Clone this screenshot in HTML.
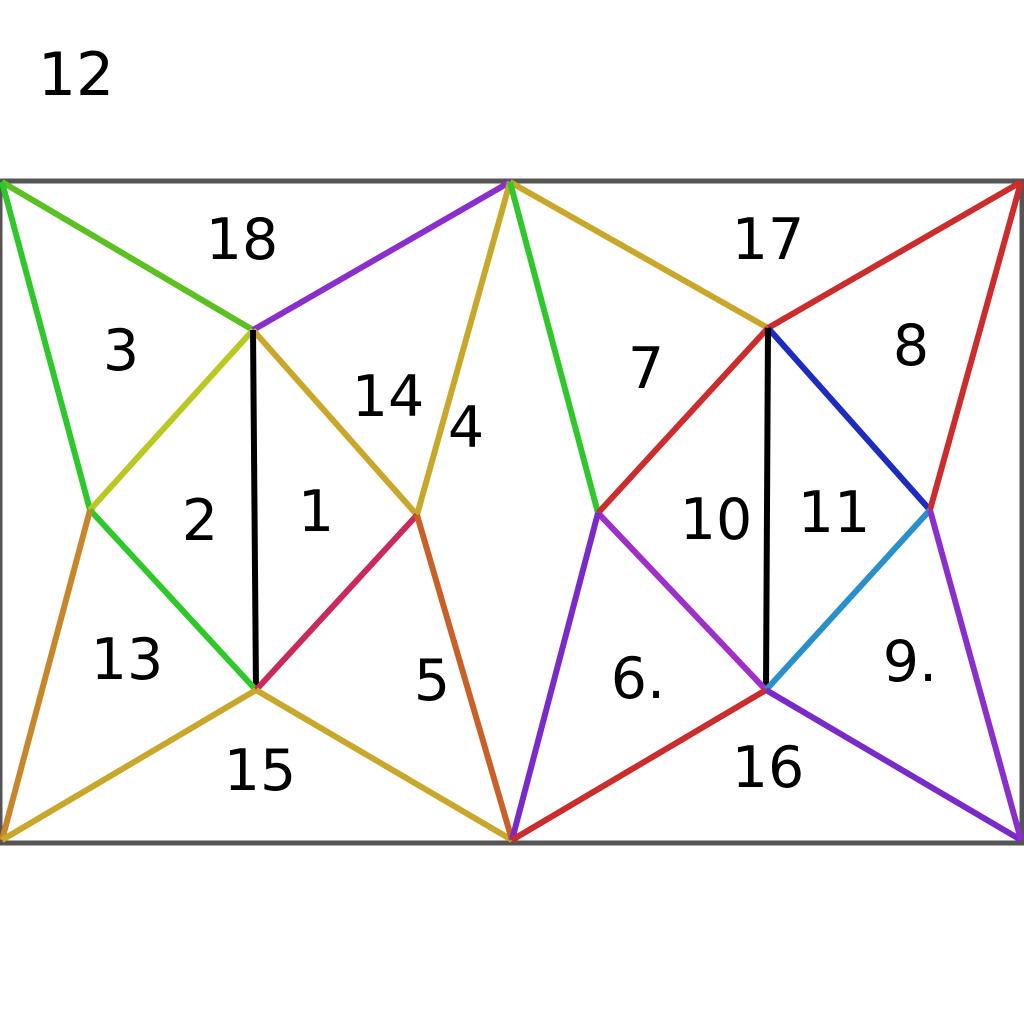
<!DOCTYPE html>
<html><head><meta charset="utf-8"><style>
html,body{margin:0;padding:0;background:#fff;width:1024px;height:1024px;overflow:hidden}
svg text{font-family:"DejaVu Sans","Liberation Sans",sans-serif;fill:#000}
</style></head><body>
<svg id="chart" width="1024" height="1024" viewBox="0 0 1024 1024" xmlns="http://www.w3.org/2000/svg">
<rect x="0" y="181" width="1022" height="662" fill="none" stroke="#555" stroke-width="5"/>
<g id="edges"></g>
<g id="labels"></g>
</svg>
<script>
const vertexNames = ['A','B','C','D','E','F','G','H','I','J','K','L','M','N'];
const vertexX = [2,510,1021,253,768,90,417,598,930,256,766,2,512,1021];
const vertexY = [182,182,182,330,328,510,515,513,510,690,690,840,840,840];
const edgeFrom = ['A','D','B','E','A','F','D','G','B','H','E','I','D','E','F','J','H','K','F','J','J','G','H','K','K','I'];
const edgeTo   = ['D','B','E','C','F','D','G','B','H','E','I','C','J','K','J','G','K','I','L','L','M','M','M','M','N','N'];
const edgeColor = ['#5cc022','#8a2ecc','#c9a72a','#cc2c2c','#2ec82a','#bcc822','#c9a72a','#c9a72a','#2ec82a','#cc2c2c','#1f2abf','#cc2c2c','#000','#000','#2ec82a','#c92a5a','#a02ec8','#2a90cc','#c8862a','#c9a72a','#c9a72a','#c86028','#7a2ac8','#cc2c2c','#7a2ac8','#8a2ecc'];
const labelText = ['12','18','3','14','4','2','1','13','5','15','17','7','8','10','11','6.','9.','16'];
const labelX = [76,242,121,388,466,200,316,127,432,260,768,646,911,716,834,638,910,768];
const labelY = [75,240,351,397,428,521,512,660,681,771,240,369,346,520,513,679,662,768];
const ns='http://www.w3.org/2000/svg';
const eg=document.getElementById('edges');
function vx(n){return vertexX[vertexNames.indexOf(n)];}
function vy(n){return vertexY[vertexNames.indexOf(n)];}
for(let i=0;i<edgeFrom.length;i++){
  const l=document.createElementNS(ns,'line');
  l.setAttribute('x1',vx(edgeFrom[i]));l.setAttribute('y1',vy(edgeFrom[i]));
  l.setAttribute('x2',vx(edgeTo[i]));l.setAttribute('y2',vy(edgeTo[i]));
  l.setAttribute('stroke',edgeColor[i]);l.setAttribute('stroke-width',6);
  
  
  eg.appendChild(l);
}
const lg=document.getElementById('labels');
for(let i=0;i<labelText.length;i++){
  const t=document.createElementNS(ns,'text');
  t.setAttribute('x',labelX[i]);t.setAttribute('y',labelY[i]);
  t.setAttribute('text-anchor','middle');t.setAttribute('dominant-baseline','central');
  t.setAttribute('font-size',i===0?60:57);
  t.textContent=labelText[i];
  
  
  lg.appendChild(t);
}
</script>
</body></html>
